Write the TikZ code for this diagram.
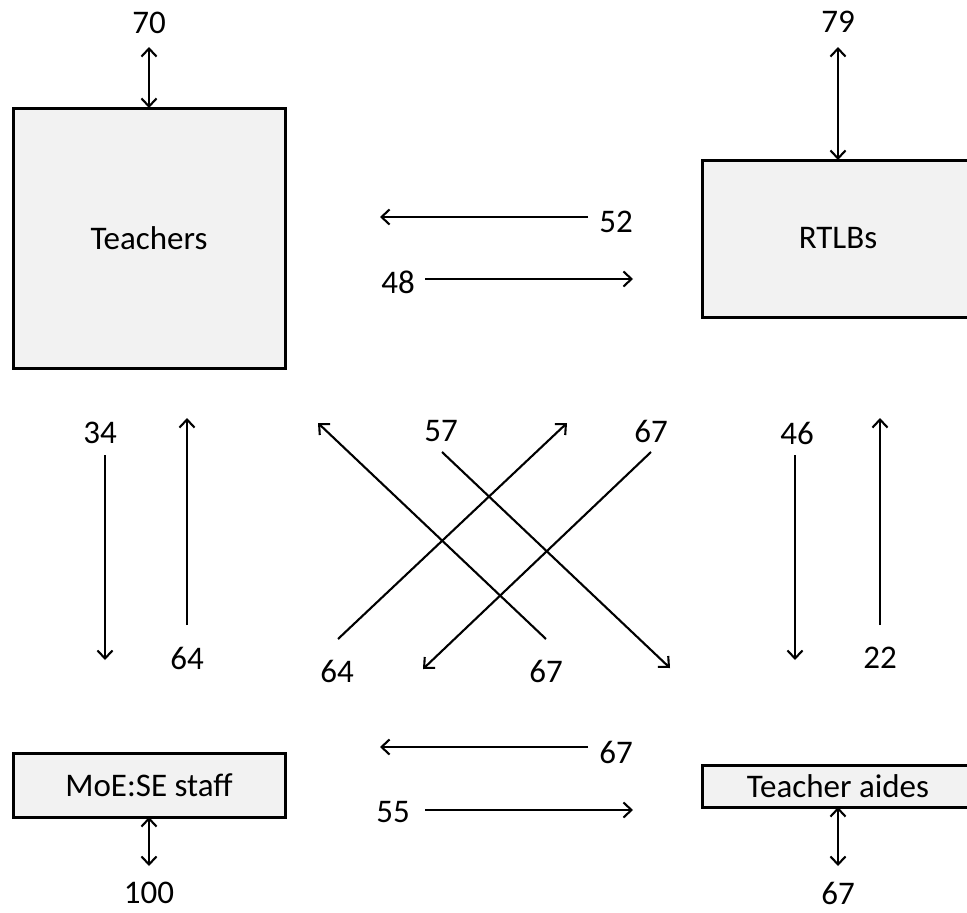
\documentclass[tikz,border=0pt]{standalone}
\usepackage{fontspec}
\setmainfont{Carlito}
\usetikzlibrary{arrows.meta}
\definecolor{boxgray}{HTML}{F2F2F2}

\begin{document}
\begin{tikzpicture}[x=1pt,y=-1pt,
    font=\fontsize{33}{38}\selectfont,
    >={Straight Barb[length=8pt,width=15pt]},
    group/.style={draw, line width=3pt, fill=boxgray, inner sep=0pt, outer sep=0pt},
    link/.style={line width=2.1pt, ->},
    both/.style={line width=2.1pt, <->}]

    \useasboundingbox (0,0) rectangle (967,913);

    % The four groups
    \node[group, minimum width=272, minimum height=260] (teachers) at (149,238) {Teachers};
    \node[group, minimum width=272, minimum height=157] (rtlbs) at (838,238.5) {RTLBs};
    \node[group, minimum width=272, minimum height=64] (moe) at (149,785) {MoE:SE staff};
    \node[group, minimum width=272, minimum height=42] (aides) at (838,786) {Teacher aides};

    % Counts
    \foreach \Name/\X/\Y/\Num in {c70/149/23/70, c79/838/22/79, c100/149/893/100, c67e/838/893/67,
        c52/616/222/52, c48/398/282/48, c67a/616/752/67, c55/393/812/55,
        c34/100/433/34, c64a/187/658/64, c46/797/433/46, c22/880/658/22,
        c57/441/431/57, c67b/651/431/67, c64b/337/671/64, c67c/546/671/67}
    \node (\Name) at (\X,\Y) {\Num};

    % Totals for each group
    \coordinate (t70) at (149,47);
    \coordinate (t79) at (838,47);
    \coordinate (t100) at (149,866);
    \coordinate (t67) at (838,866);
    \draw[both] (t70) -- (teachers.north);
    \draw[both] (t79) -- (rtlbs.north -| t79);
    \draw[both] (moe.south) -- (t100);
    \draw[both] (aides.south -| t67) -- (t67);

    % Flows between groups
    \foreach \Name/\xa/\ya/\xb/\yb in {h52/588/217/380/217, h48/425/279/633/279,
        h67/588/747/380/747, h55/425/810/633/810,
        v34/105/455/105/660, v64/187/625/187/418, v46/795/455/795/660, v22/880/625/880/418,
        d67/546/639/318/423, d57/442/452/670/668, d64/338/639/567/423, d67b/651/452/423/669}
    {
    \coordinate (\Name-tail) at (\xa,\ya);
    \coordinate (\Name-tip) at (\xb,\yb);
    \draw[link] (\Name-tail) -- (\Name-tip);
    }

\end{tikzpicture}
\end{document}
